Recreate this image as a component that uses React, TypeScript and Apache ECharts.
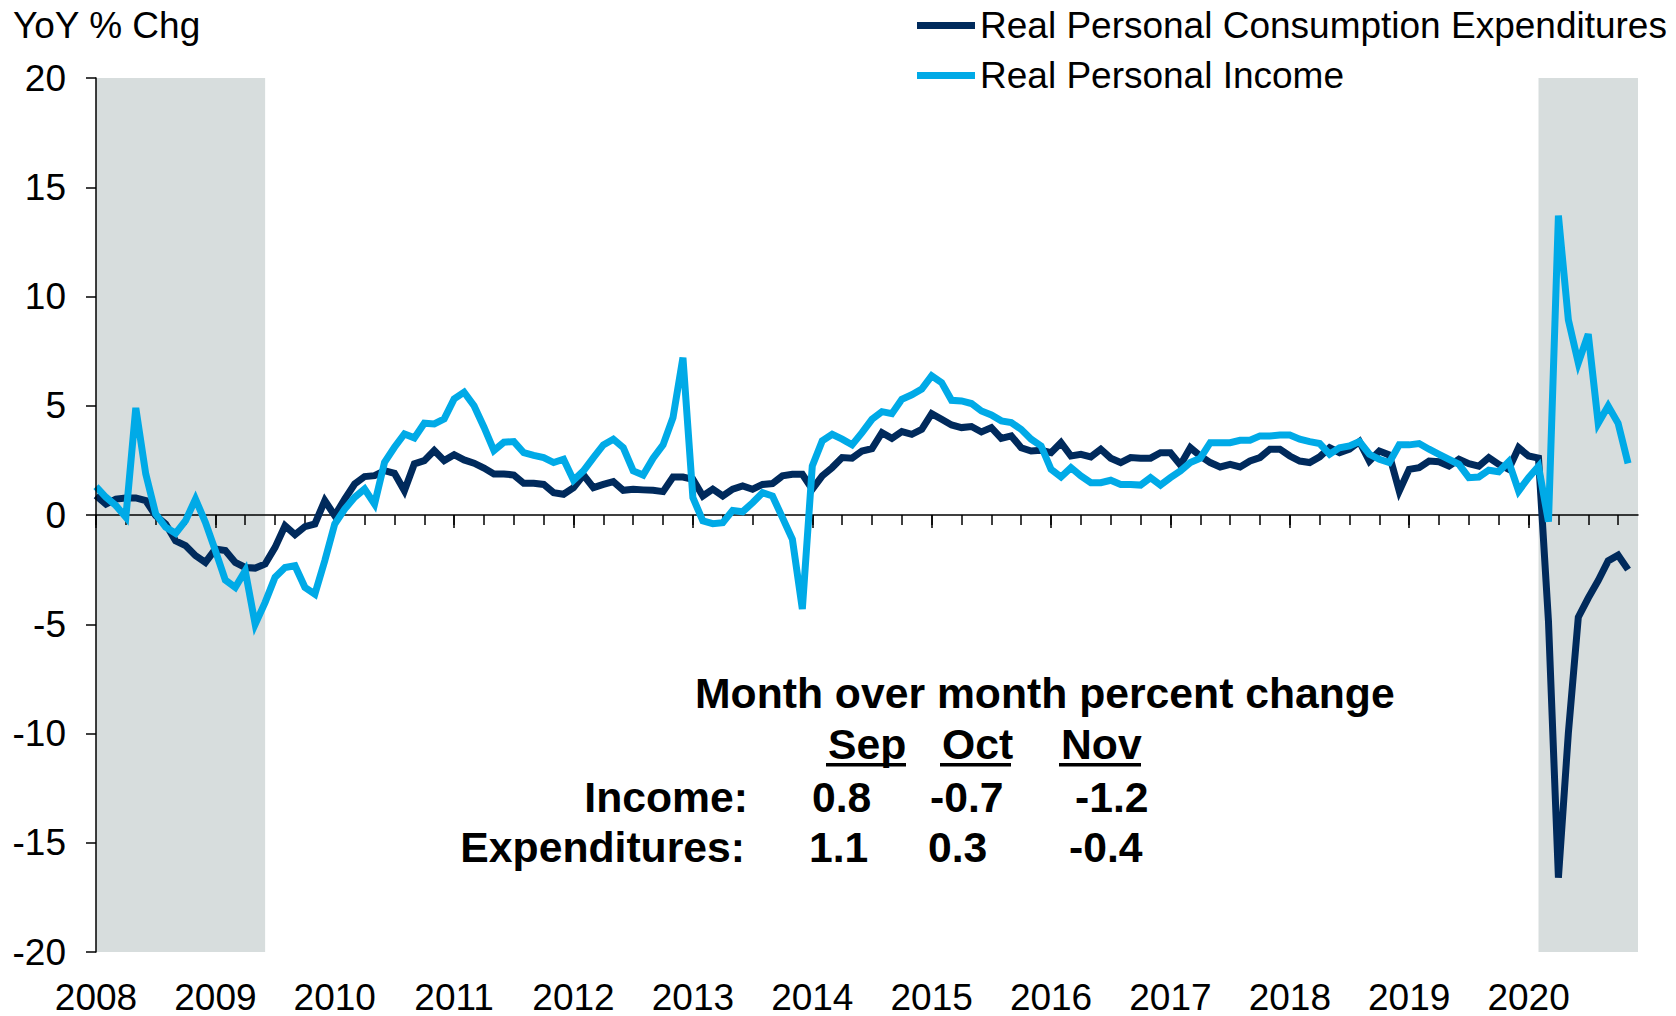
import React, { useEffect, useRef } from "react";
import * as echarts from "echarts";

const FONT = "'Liberation Sans', Arial, Helvetica, sans-serif";
const DARK = "#002A5C";
const LIGHT = "#00AAE7";
const GRAY = "#D7DDDD";

const years = ["2008", "2009", "2010", "2011", "2012", "2013", "2014", "2015", "2016", "2017", "2018", "2019", "2020"];
const monthCodes = ["01", "02", "03", "04", "05", "06", "07", "08", "09", "10", "11", "12"];
const categories = years.flatMap((y) => monthCodes.map((m) => `${y}-${m}`));

// Real Personal Consumption Expenditures, YoY % chg (Jan 2008 - Nov 2020)
const pce = [
  0.89, 0.5, 0.73, 0.78, 0.78, 0.66, -0.03, -0.41, -1.18, -1.4, -1.86, -2.17,
  -1.56, -1.63, -2.17, -2.4, -2.43, -2.24, -1.48, -0.49, -0.9, -0.53, -0.41, 0.66,
  -0.03, 0.73, 1.42, 1.76, 1.8, 2.03, 1.91, 1.11, 2.34, 2.49, 2.95, 2.49,
  2.76, 2.52, 2.37, 2.15, 1.88, 1.88, 1.83, 1.45, 1.45, 1.4, 1.02, 0.95,
  1.25, 1.83, 1.25, 1.4, 1.53, 1.13, 1.18, 1.15, 1.13, 1.07, 1.74, 1.74,
  1.63, 0.87, 1.18, 0.87, 1.18, 1.33, 1.18, 1.4, 1.44, 1.79, 1.86, 1.86,
  1.18, 1.79, 2.17, 2.63, 2.6, 2.93, 3.04, 3.77, 3.51, 3.82, 3.69, 3.92,
  4.64, 4.38, 4.12, 4.0, 4.05, 3.8, 4.0, 3.51, 3.62, 3.08, 2.93, 2.96,
  2.85, 3.31, 2.7, 2.78, 2.66, 3.01, 2.6, 2.4, 2.63, 2.6, 2.6, 2.85,
  2.85, 2.29, 3.08, 2.7, 2.4, 2.2, 2.32, 2.2, 2.47, 2.63, 3.01, 3.01,
  2.7, 2.47, 2.4, 2.66, 3.08, 2.85, 3.01, 3.36, 2.47, 2.93, 2.75, 1.1,
  2.09, 2.17, 2.47, 2.44, 2.24, 2.55, 2.35, 2.24, 2.63, 2.32, 2.09, 3.08,
  2.7, 2.6, -4.86, -16.6, -9.98, -4.68, -3.8, -3.0, -2.1, -1.84, -2.5,
];

// Real Personal Income, YoY % chg (Jan 2008 - Nov 2020)
const income = [
  1.3, 0.81, 0.43, -0.1, 4.9, 1.88, 0.05, -0.56, -0.84, -0.26, 0.73, -0.34,
  -1.63, -2.98, -3.31, -2.55, -5.0, -4.0, -2.85, -2.4, -2.32, -3.31, -3.62, -2.09,
  -0.41, 0.27, 0.81, 1.19, 0.5, 2.41, 3.1, 3.71, 3.53, 4.2, 4.17, 4.4,
  5.31, 5.62, 5.0, 4.02, 2.95, 3.33, 3.36, 2.85, 2.73, 2.63, 2.4, 2.55,
  1.59, 2.02, 2.63, 3.21, 3.47, 3.08, 2.02, 1.83, 2.6, 3.21, 4.46, 7.2,
  0.79, -0.27, -0.4, -0.35, 0.21, 0.15, 0.56, 1.02, 0.87, -0.12, -1.11, -4.3,
  2.24, 3.39, 3.69, 3.47, 3.21, 3.77, 4.38, 4.73, 4.64, 5.3, 5.5, 5.76,
  6.37, 6.06, 5.25, 5.22, 5.1, 4.76, 4.58, 4.31, 4.23, 3.92, 3.47, 3.16,
  2.09, 1.74, 2.17, 1.79, 1.48, 1.48, 1.59, 1.4, 1.4, 1.37, 1.71, 1.37,
  1.71, 2.02, 2.4, 2.6, 3.31, 3.31, 3.31, 3.42, 3.42, 3.62, 3.62, 3.66,
  3.66, 3.47, 3.36, 3.27, 2.78, 3.08, 3.16, 3.36, 2.78, 2.55, 2.4, 3.21,
  3.21, 3.27, 3.01, 2.78, 2.55, 2.32, 1.71, 1.74, 2.05, 1.98, 2.44, 1.1,
  1.71, 2.23, -0.3, 13.7, 8.93, 6.96, 8.28, 4.2, 4.99, 4.2, 2.36,
];

const recessions = [
  ["2008-01", "2009-06"],
  ["2020-02", "2020-12"],
];

const seriesNames = ["Real Personal Consumption Expenditures", "Real Personal Income"];
const yAxisTitle = "YoY % Chg";
const tableTitle = "Month over month percent change";
const tableMonths = ["Sep", "Oct", "Nov"];
const rowLabels = ["Income:", "Expenditures:"];
const incomeMoM = ["0.8", "-0.7", "-1.2"];
const expendMoM = ["1.1", "0.3", "-0.4"];

export default function App() {
  const ref = useRef<HTMLDivElement>(null);

  useEffect(() => {
    document.body.style.margin = "0";
    if (!ref.current) return;
    const chart = echarts.init(ref.current, undefined, { renderer: "svg" });

    const bold = { fontFamily: FONT, fontWeight: "bold", fontSize: 42.7, fill: "#000" };
    const headerX = [828, 942, 1061];
    const underline = [
      [826, 80],
      [940, 71],
      [1059, 82],
    ];
    const incomeX = [812, 930, 1075];
    const expendX = [809, 928, 1069];

    const graphic: any[] = [
      {
        type: "text",
        left: 13,
        top: 7,
        style: { text: yAxisTitle, fontFamily: FONT, fontSize: 37, fill: "#000" },
      },
      {
        type: "text",
        x: 695,
        y: 693,
        style: { ...bold, text: tableTitle, verticalAlign: "middle", align: "left" },
      },
      ...tableMonths.map((m, i) => ({
        type: "text",
        x: headerX[i],
        y: 744,
        style: { ...bold, text: m, verticalAlign: "middle", align: "left" },
      })),
      ...underline.map(([x, w]) => ({
        type: "rect",
        shape: { x, y: 763, width: w, height: 3.5 },
        style: { fill: "#000" },
      })),
      {
        type: "text",
        x: 748,
        y: 797,
        style: { ...bold, text: rowLabels[0], verticalAlign: "middle", align: "right" },
      },
      {
        type: "text",
        x: 745,
        y: 847,
        style: { ...bold, text: rowLabels[1], verticalAlign: "middle", align: "right" },
      },
      ...incomeMoM.map((v, i) => ({
        type: "text",
        x: incomeX[i],
        y: 797,
        style: { ...bold, text: v, verticalAlign: "middle", align: "left" },
      })),
      ...expendMoM.map((v, i) => ({
        type: "text",
        x: expendX[i],
        y: 847,
        style: { ...bold, text: v, verticalAlign: "middle", align: "left" },
      })),
    ];

    const tickAxisBase = {
      type: "category",
      data: categories,
      boundaryGap: false,
      position: "bottom",
      axisLabel: { show: false },
      splitLine: { show: false },
      z: 2,
    };

    const option: any = {
      animation: false,
      grid: { left: 96, right: 38, top: 78, bottom: 64, containLabel: false },
      legend: {
        orient: "vertical",
        left: 917,
        top: 7,
        padding: 0,
        itemWidth: 58,
        itemHeight: 7,
        itemGap: 13,
        icon: "rect",
        data: seriesNames,
        textStyle: { fontFamily: FONT, fontSize: 37, color: "#000" },
      },
      xAxis: [
        {
          type: "category",
          data: categories,
          boundaryGap: false,
          position: "bottom",
          axisLine: { show: false, onZero: false },
          axisTick: { show: false },
          splitLine: { show: false },
          axisLabel: {
            interval: (i: number) => i % 12 === 0,
            formatter: (v: string) => v.slice(0, 4),
            fontFamily: FONT,
            fontSize: 37,
            lineHeight: 30,
            color: "#000",
            margin: 30,
          },
        },
        {
          ...tickAxisBase,
          axisLine: { show: true, onZero: true, onZeroAxisIndex: 0, lineStyle: { color: "#000", width: 1.5 } },
          axisTick: { show: true, interval: (i: number) => i % 3 === 0, length: 10, lineStyle: { color: "#000", width: 1.5 } },
        },
        {
          ...tickAxisBase,
          axisLine: { show: false, onZero: true, onZeroAxisIndex: 0 },
          axisTick: { show: true, interval: (i: number) => i % 12 === 0, length: 13, lineStyle: { color: "#000", width: 1.5 } },
        },
      ],
      yAxis: {
        type: "value",
        min: -20,
        max: 20,
        interval: 5,
        z: 4,
        axisLine: { show: true, lineStyle: { color: "#000", width: 1.5 } },
        axisTick: { show: true, length: 10, lineStyle: { color: "#000", width: 1.5 } },
        splitLine: { show: false },
        axisLabel: { fontFamily: FONT, fontSize: 37, color: "#000", margin: 30 },
      },
      graphic,
      series: [
        {
          type: "line",
          name: "recessions",
          data: [],
          z: 1,
          silent: true,
          markArea: {
            silent: true,
            itemStyle: { color: GRAY },
            data: recessions.map(([a, b]) => [{ xAxis: a }, { xAxis: b }]),
          },
        },
        {
          type: "line",
          name: seriesNames[0],
          data: pce,
          xAxisIndex: 0,
          yAxisIndex: 0,
          showSymbol: false,
          symbol: "none",
          z: 3,
          color: DARK,
          itemStyle: { color: DARK },
          lineStyle: { color: DARK, width: 7, join: "miter", miterLimit: 10 },
        },
        {
          type: "line",
          name: seriesNames[1],
          data: income,
          xAxisIndex: 0,
          yAxisIndex: 0,
          showSymbol: false,
          symbol: "none",
          z: 3,
          color: LIGHT,
          itemStyle: { color: LIGHT },
          lineStyle: { color: LIGHT, width: 7, join: "miter", miterLimit: 10 },
        },
      ],
    };

    chart.setOption(option);
    return () => chart.dispose();
  }, []);

  return <div ref={ref} style={{ width: 1676, height: 1016, position: "absolute", left: 0, top: 0 }} />;
}
